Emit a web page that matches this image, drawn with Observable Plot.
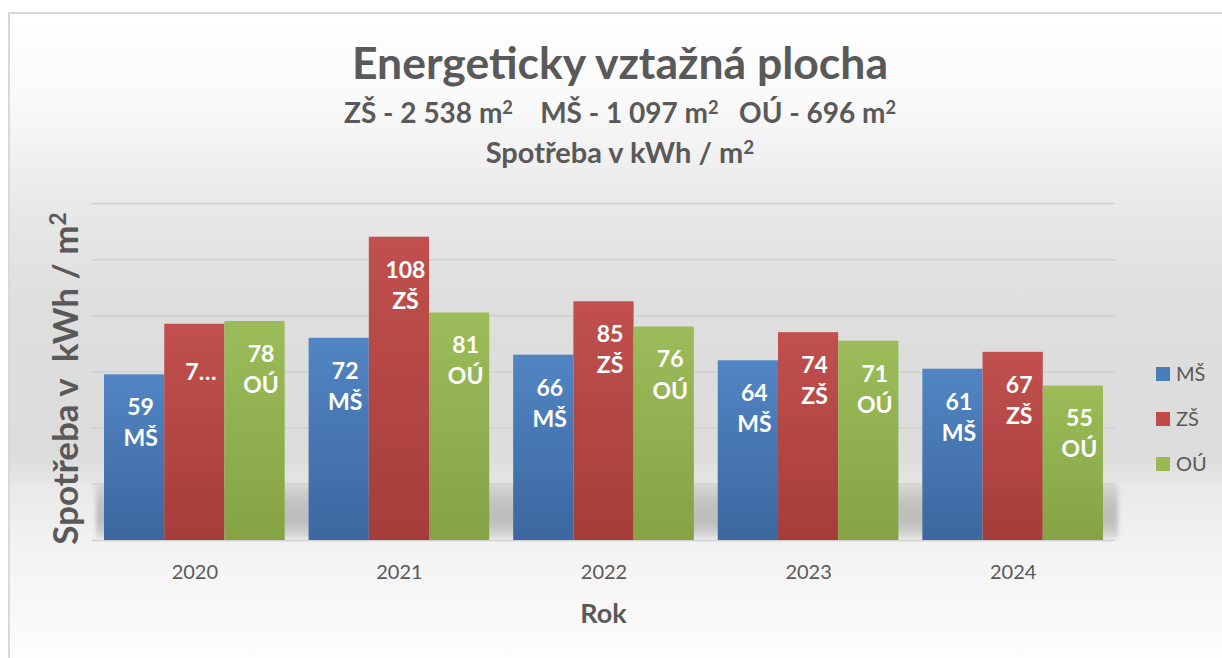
<!DOCTYPE html>
<html>
<head>
<meta charset="utf-8">
<script src="https://cdn.jsdelivr.net/npm/d3@7"></script>
<script src="https://cdn.jsdelivr.net/npm/@observablehq/plot@0.6"></script>
<style>
  html, body { margin: 0; padding: 0; width: 1222px; height: 658px; overflow: hidden; background: #fff; }
  #stage { position: absolute; left: 0; top: 0; width: 1222px; height: 658px; font-family: Lato, "Open Sans", sans-serif; color: #595959; }
  #box { position: absolute; left: 8px; top: 12px; width: 1300px; height: 700px;
    border-left: 2px solid #d9d9d9; border-top: 2px solid #d9d9d9;
    background: linear-gradient(to bottom, #ffffff 0px, #f9f9f9 90px, #e9e9e9 190px, #dedede 290px, #dcdcdc 440px, #e4e4e4 466px, #e8e8e8 470px, #f2f2f2 528px, #fdfdfd 646px); }
  #shadow { position: absolute; left: 96px; top: 484px; width: 1022px; height: 54px;
    background: linear-gradient(to bottom, #d6d6d6 0%, #c2c2c2 35%, #bdbdbd 70%, #dadada 100%); filter: blur(2px); }
  .t { position: absolute; left: 0; width: 1240px; text-align: center; font-weight: bold; line-height: 1; white-space: pre; }
  sup { font-size: 0.65em; vertical-align: 0.5em; line-height: 0; }
  .plot { position: absolute; left: 0; top: 180px; }
  .leg { position: absolute; left: 1176px; font-size: 20px; line-height: 1; }
  .sw { position: absolute; left: 1156px; width: 14px; height: 14px; }
</style>
</head>
<body>
<svg width="0" height="0" style="position:absolute">
  <defs>
    <linearGradient id="gMS" x1="0" y1="0" x2="0" y2="1">
      <stop offset="0" stop-color="#5185c3"/><stop offset="1" stop-color="#3c67a0"/>
    </linearGradient>
    <linearGradient id="gZS" x1="0" y1="0" x2="0" y2="1">
      <stop offset="0" stop-color="#c1504e"/><stop offset="1" stop-color="#a53d3b"/>
    </linearGradient>
    <linearGradient id="gOU" x1="0" y1="0" x2="0" y2="1">
      <stop offset="0" stop-color="#9cbc5a"/><stop offset="1" stop-color="#85a343"/>
    </linearGradient>
  </defs>
</svg>
<div id="stage">
  <div id="box"></div>
  <div id="grid" class="plot"></div>
  <div id="shadow"></div>
  <div class="t" style="top:39.5px; font-size:44.5px;">Energeticky vztažná plocha</div>
  <div class="t" style="top:97.5px; font-size:28px;">ZŠ - 2 538 m<sup>2</sup>    MŠ - 1 097 m<sup>2</sup>   OÚ - 696 m<sup>2</sup></div>
  <div class="t" style="top:137px; font-size:29px;">Spotřeba v kWh / m<sup>2</sup></div>
  <div class="t" style="left:-136px; width:400px; top:360.5px; font-size:35px; transform: rotate(-90deg);">Spotřeba v  kWh / m<sup>2</sup></div>
  <div class="t" style="left:92px; width:1023px; top:598.7px; font-size:27px;">Rok</div>
  <div id="plot" class="plot"></div>
  <div id="legend"></div>
</div>
<script>
const years = ["2020", "2021", "2022", "2023", "2024"];
const seriesNames = ["MŠ", "ZŠ", "OÚ"];
const msValues = [59, 72, 66, 64, 61];
const zsValues = [77, 108, 85, 74, 67];
const ouValues = [78, 81, 76, 71, 55];
const yTicks = [0, 20, 40, 60, 80, 100, 120];
const truncatedLabels = {"2020|ZŠ": "7…"};

const seriesFills = ["url(#gMS)", "url(#gZS)", "url(#gOU)"];
const legendColors = ["#4a7ebb", "#be4b48", "#98b954"];

const valuesBySeries = [msValues, zsValues, ouValues];
const data = [];
years.forEach((year, i) => {
  seriesNames.forEach((s, j) => {
    data.push({year, series: s, value: valuesBySeries[j][i]});
  });
});
const labelOf = d => truncatedLabels[`${d.year}|${d.series}`] ?? `${d.value}\n${d.series}`;

const frame = {
  width: 1222,
  height: 478,
  marginTop: 23,
  marginBottom: 118,
  marginLeft: 92,
  marginRight: 107,
  style: {fontFamily: "Lato, 'Open Sans', sans-serif", background: "transparent", overflow: "visible"}
};

// gridlines (drawn once across the whole frame, underneath the floor shadow)
const grid = Plot.plot({
  ...frame,
  y: {domain: [0, 120], axis: null},
  marks: [Plot.ruleY(yTicks, {stroke: "#d0d0d0", strokeWidth: 1.5})]
});
document.getElementById("grid").appendChild(grid);

const chart = Plot.plot({
  ...frame,
  y: {domain: [0, 120], axis: null},
  x: {domain: seriesNames, axis: null, padding: 0, round: false},
  fx: {domain: years, paddingInner: 0.117, paddingOuter: 0.0587, round: false, label: null},
  color: {type: "ordinal", domain: seriesNames, range: seriesFills},
  marks: [
    Plot.barY(data, {fx: "year", x: "series", y: "value", fill: "series", inset: 0}),
    Plot.text(data, {fx: "year", x: "series", y: "value", text: labelOf, fill: "white",
      fontWeight: "bold", fontSize: 23, lineAnchor: "middle", lineHeight: 1.35, dy: 46, dx: 6}),
    Plot.axisFx({anchor: "bottom", tickSize: 0, tickPadding: 24, fontSize: 20, fill: "#595959", label: null})
  ]
});
document.getElementById("plot").appendChild(chart);

const legend = document.getElementById("legend");
const legendTops = [367, 412, 457];
seriesNames.forEach((s, j) => {
  const sw = document.createElement("div");
  sw.className = "sw";
  sw.style.top = legendTops[j] + "px";
  sw.style.background = legendColors[j];
  legend.appendChild(sw);
  const tx = document.createElement("div");
  tx.className = "leg";
  tx.style.top = (legendTops[j] + 7 - 10.6) + "px";
  tx.textContent = s;
  legend.appendChild(tx);
});
</script>
</body>
</html>
